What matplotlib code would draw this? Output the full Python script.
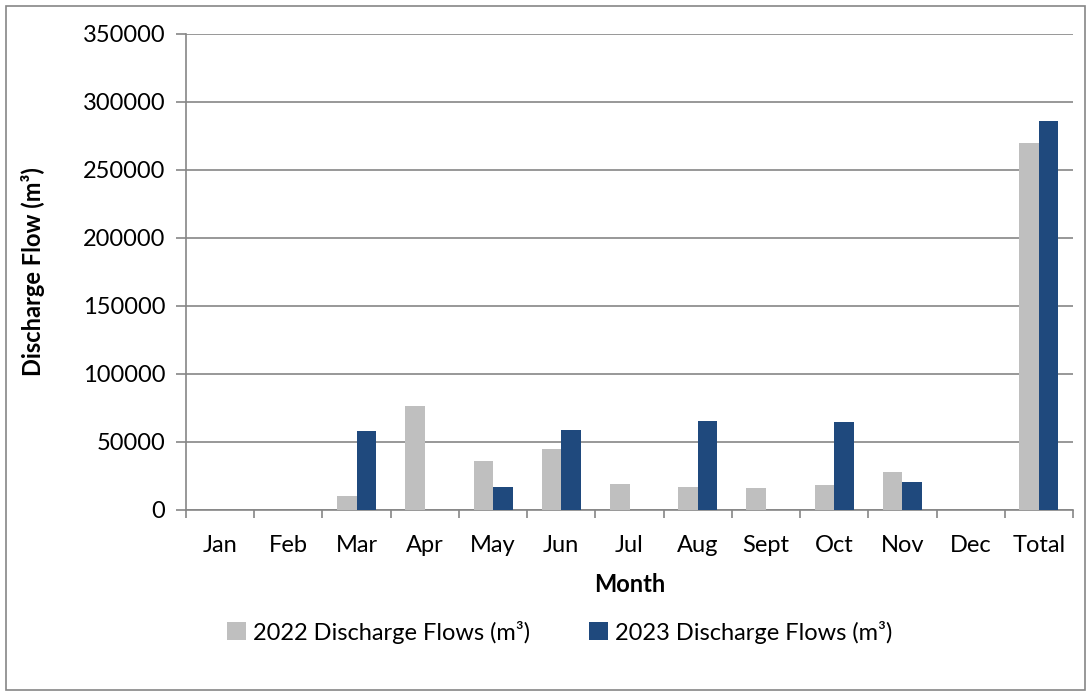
import numpy as np
import matplotlib.pyplot as plt
from matplotlib.patches import Rectangle

months = ['Jan', 'Feb', 'Mar', 'Apr', 'May', 'Jun', 'Jul', 'Aug', 'Sept', 'Oct', 'Nov', 'Dec', 'Total']
flows2022 = [0, 0, 10300, 76800, 36200, 45000, 19000, 16800, 16000, 18500, 28000, 0, 269800]
flows2023 = [0, 0, 58100, 0, 17000, 58900, 0, 65500, 0, 64500, 20900, 0, 286300]

plt.rcParams['font.family'] = ['Lato', 'DejaVu Sans']

fig = plt.figure(figsize=(10.91, 6.96), dpi=100)
ax = fig.add_axes([186 / 1091, 1 - 510 / 696, 887 / 1091, 476 / 696])

# outer chart border
fig.patches.append(Rectangle((6 / 1091, 6 / 696), 1079 / 1091, 684 / 696, transform=fig.transFigure,
                             fill=False, edgecolor='#868686', linewidth=1.2))

x = np.arange(len(months))
w = 1 / 3.5
ax.bar(x - w / 2, flows2022, width=w, color='#BFBFBF', label='2022 Discharge Flows (m³)', zorder=3)
ax.bar(x + w / 2, flows2023, width=w, color='#1F497D', label='2023 Discharge Flows (m³)', zorder=3)

ax.set_xlim(-0.5, len(months) - 0.5)
ax.set_ylim(0, 350000)
ax.set_yticks(np.arange(0, 350001, 50000))
ax.yaxis.grid(True, color='#868686', linewidth=1.2, zorder=0)

ax.set_xticks(x)
ax.set_xticklabels(months)
ax.set_xticks(np.arange(-0.5, len(months)), minor=True)
ax.tick_params(axis='x', which='major', length=0, pad=18, labelsize=17)
ax.tick_params(axis='x', which='minor', length=6, width=1.2, color='#868686')
ax.tick_params(axis='y', length=7, width=1.2, color='#868686', labelsize=17, pad=8)

for side in ['top', 'right']:
    ax.spines[side].set_visible(False)
for side in ['left', 'bottom']:
    ax.spines[side].set_color('#868686')
    ax.spines[side].set_linewidth(1.2)

ax.set_xlabel('Month', fontsize=17, fontweight='bold', labelpad=12)
ax.set_ylabel('Discharge Flow (m³)', fontsize=17, fontweight='bold', labelpad=27)

fig.legend(loc='center', bbox_to_anchor=(560 / 1091, 1 - 632 / 696), ncol=2, frameon=False,
           fontsize=17, handlelength=0.8, handleheight=0.8, handletextpad=0.3, columnspacing=2.5)

plt.savefig('out.png', format='png')
